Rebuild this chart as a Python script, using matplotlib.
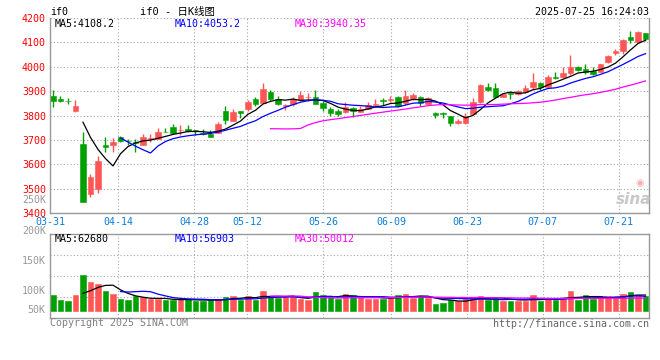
import numpy as np
import pandas as pd
import matplotlib
matplotlib.use('Agg')
import matplotlib.pyplot as plt

plt.rcParams['font.family'] = ['DejaVu Sans Mono', 'Noto Sans CJK SC']
plt.rcParams['font.size'] = 7.2

# if0 日K, 03-31 .. 07-25 (80 trading days)
opens = [3880, 3870, 3861, 3818, 3685, 3481, 3499, 3681, 3679, 3711,
         3696, 3693, 3679, 3705, 3704, 3734, 3753, 3739, 3746, 3739,
         3730, 3726, 3730, 3818, 3776, 3817, 3825, 3870, 3850, 3897,
         3869, 3840, 3847, 3865, 3876, 3877, 3852, 3829, 3819, 3813,
         3831, 3816, 3829, 3845, 3862, 3862, 3876, 3850, 3870, 3878,
         3848, 3811, 3810, 3800, 3771, 3768, 3808, 3855, 3919, 3912,
         3878, 3891, 3888, 3895, 3916, 3935, 3919, 3960, 3957, 3976,
         3997, 3991, 3983, 3980, 4018, 4055, 4066, 4120, 4103, 4139]
highs = [3903, 3882, 3873, 3862, 3731, 3562, 3636, 3712, 3708, 3718,
         3704, 3704, 3726, 3726, 3749, 3749, 3767, 3760, 3763, 3741,
         3744, 3742, 3775, 3839, 3827, 3817, 3865, 3877, 3935, 3903,
         3880, 3848, 3876, 3900, 3893, 3905, 3860, 3836, 3825, 3857,
         3837, 3840, 3857, 3866, 3872, 3882, 3882, 3905, 3892, 3882,
         3878, 3816, 3816, 3800, 3788, 3811, 3872, 3929, 3932, 3932,
         3890, 3896, 3903, 3925, 3976, 3939, 3967, 3980, 4001, 4048,
         4005, 4013, 4001, 4012, 4048, 4073, 4112, 4146, 4146, 4139]
lows = [3836, 3855, 3849, 3813, 3447, 3468, 3485, 3653, 3649, 3693,
        3678, 3651, 3679, 3693, 3704, 3731, 3726, 3720, 3733, 3720,
        3720, 3714, 3730, 3767, 3776, 3791, 3818, 3839, 3850, 3859,
        3843, 3821, 3840, 3860, 3860, 3847, 3820, 3797, 3800, 3810,
        3793, 3816, 3829, 3836, 3845, 3855, 3834, 3845, 3864, 3840,
        3848, 3790, 3790, 3756, 3765, 3766, 3806, 3852, 3899, 3872,
        3875, 3868, 3885, 3892, 3903, 3903, 3916, 3950, 3953, 3967,
        3983, 3969, 3967, 3980, 4016, 4048, 4052, 4096, 4103, 4105]
closes = [3859, 3860, 3858, 3840, 3448, 3547, 3615, 3670, 3690, 3697,
          3694, 3689, 3712, 3707, 3734, 3732, 3730, 3741, 3738, 3735,
          3726, 3714, 3767, 3782, 3816, 3809, 3854, 3848, 3910, 3869,
          3846, 3844, 3869, 3883, 3878, 3847, 3831, 3811, 3807, 3836,
          3819, 3829, 3845, 3849, 3858, 3866, 3840, 3881, 3886, 3852,
          3874, 3804, 3805, 3768, 3779, 3797, 3855, 3925, 3904, 3875,
          3889, 3888, 3899, 3915, 3939, 3916, 3960, 3953, 3976, 3997,
          3986, 3980, 3969, 4012, 4046, 4066, 4110, 4110, 4143, 4114]
volumes = [62000, 42200, 38300, 62000, 139900, 113500, 106900, 79200, 66000, 47500,
           43600, 58100, 52800, 44900, 44900, 42200, 42200, 46200, 46200, 38300,
           38300, 42200, 46200, 54100, 59400, 43600, 59400, 42200, 77900, 58100,
           48800, 52800, 52800, 47500, 43600, 73900, 62000, 52800, 46200, 66000,
           62000, 52800, 47500, 46200, 46200, 55400, 62000, 66000, 50200, 58100,
           51500, 27700, 31700, 43600, 38300, 47500, 55400, 58100, 42200, 54100,
           39600, 39600, 39600, 39600, 62000, 39600, 50200, 42200, 50200, 77900,
           43600, 62000, 46200, 50200, 58100, 50200, 66000, 73900, 62000, 58100]

date_labels = ['03-31', '04-14', '04-28', '05-12', '05-26', '06-09', '06-23', '07-07', '07-21']
date_idx = [0, 9, 19, 26, 36, 45, 55, 65, 75]
price_ticks = [3400, 3500, 3600, 3700, 3800, 3900, 4000, 4100, 4200]
vol_labels = ['250K', '200K', '150K', '100K', '50K']
ma_windows = [5, 10, 30]
ma_main_text = ['MA5:4108.2', 'MA10:4053.2', 'MA30:3940.35']
ma_vol_text = ['MA5:62680', 'MA10:56903', 'MA30:50012']

RED = '#ff5555'
GREEN = '#00a000'
BLUE = '#0b7dda'
MA_COLORS = ['black', '#0000ff', '#ff00ff']
GRID = dict(color='#a8a8a8', linestyle=(0, (1, 2)), linewidth=0.8)

W, H = 660, 360
fig = plt.figure(figsize=(W / 100, H / 100), dpi=100)


def box(l, t, r, b):
    return [l / W, 1 - b / H, (r - l) / W, (b - t) / H]


def ptext(x, y, s, **kw):
    fig.text(x / W, 1 - y / H, s, va='center', **kw)


ax = fig.add_axes(box(50, 17.9, 649, 213.3))
axv = fig.add_axes(box(50, 234.3, 649, 318.3))

n = len(closes)
x = np.arange(n)
o, hi, lo, c = (np.array(v, dtype=float) for v in (opens, highs, lows, closes))
col = np.where(c >= o, RED, GREEN)

# candles
ax.vlines(x, lo, hi, colors=col, linewidth=1)
ax.bar(x, np.abs(c - o), bottom=np.minimum(o, c), width=0.76,
       color=col, edgecolor=col, linewidth=0.4)
for w, mc in zip(ma_windows, MA_COLORS):
    ax.plot(x, pd.Series(closes).rolling(w).mean(), color=mc, linewidth=0.9)

# volume
axv.bar(x, volumes, width=0.76, color=col, edgecolor=col, linewidth=0.4)
for w, mc in zip(ma_windows, MA_COLORS):
    axv.plot(x, pd.Series(volumes).rolling(w).mean(), color=mc, linewidth=0.9)

x0, x1 = -0.4, n - 0.53
# sina puts the date grid at d/(n-1) of the width, candles at d/n
gx = x0 + np.array(date_idx) * (x1 - x0) / (n - 1)

ax.set_xlim(x0, x1)
ax.set_ylim(3400, 4200)
ax.set_xticks(gx, date_labels)
ax.set_yticks(price_ticks, [str(p) for p in price_ticks])
ax.tick_params(axis='x', length=0, pad=3, labelcolor=BLUE, labelsize=7.2)
ax.tick_params(axis='y', length=0, pad=3, labelcolor='red', labelsize=7.2)
ax.grid(True, **GRID)
ax.spines['top'].set_visible(False)

vlo, vhi = -30000, 302500
axv.set_xlim(x0, x1)
axv.set_ylim(vlo, vhi)
axv.set_xticks(gx, [])
axv.set_yticks(np.linspace(vlo, vhi, 5)[1:4], [])
axv.tick_params(length=0)
axv.grid(True, **GRID)
for vl, fy in zip(vol_labels, [1.412, 1.043, 0.686, 0.329, 0.099]):
    axv.text(-0.007, fy, vl, transform=axv.transAxes, ha='right', va='center',
             color='#999999', fontsize=7.2)

for a in (ax, axv):
    a.set_axisbelow(True)
    for sp in a.spines.values():
        sp.set_color('#999999')
        sp.set_linewidth(1)

# sina watermark
ax.text(1.004, 0.03, 'sina', transform=ax.transAxes, ha='right', va='bottom',
        family='DejaVu Sans', style='italic', weight='bold', fontsize=11,
        color='#c8c8c8')
ax.text(0.985, 0.13, '◉', transform=ax.transAxes, ha='center', va='bottom',
        family='DejaVu Sans', fontsize=7, color='#f4b0b0')

# header / legends / footer
ptext(50, 12, 'if0')
ptext(140, 12, 'if0 - 日K线图', fontsize=7.5)
ptext(649, 12, '2025-07-25 16:24:03', ha='right')
for xp, s, mc in zip([55, 175, 295], ma_main_text, MA_COLORS):
    ptext(xp, 24, s, color=mc)
for xp, s, mc in zip([55, 175, 295], ma_vol_text, MA_COLORS):
    ptext(xp, 238.5, s, color=mc)
ptext(50, 323, 'Copyright 2025 SINA.COM', color='#808080')
ptext(649, 324, 'http://finance.sina.com.cn', ha='right', color='#666666')

fig.savefig('out.png', dpi=100)
